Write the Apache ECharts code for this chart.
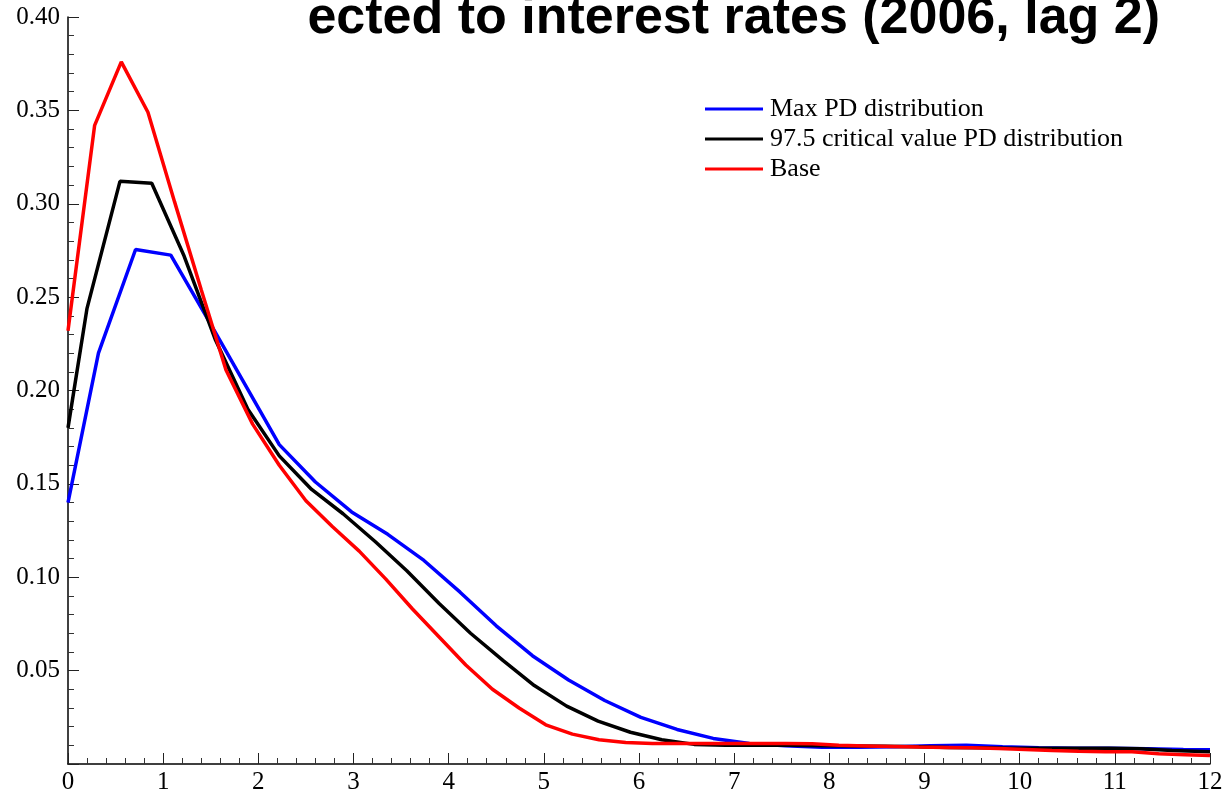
<!DOCTYPE html>
<html>
<head>
<meta charset="utf-8">
<script src="https://cdn.jsdelivr.net/npm/echarts@6/dist/echarts.min.js"></script>
<style>html,body{margin:0;padding:0;background:#fff;}#c{width:1227px;height:798px;}</style>
</head>
<body>
<div id="c"></div>
<script>
const titleText = "ected to interest rates (2006, lag 2)";
const seriesNames = ["Max PD distribution", "97.5 critical value PD distribution", "Base"];
const seriesColors = ["#0000ff", "#000000", "#ff0000"];

const blueX = [0, 0.32, 0.71, 1.08, 1.46, 1.84, 2.22, 2.60, 2.98, 3.36, 3.74, 4.12, 4.50, 4.88, 5.26, 5.64, 6.02, 6.40, 6.78, 7.16, 7.54, 7.92, 8.30, 8.68, 9.06, 9.44, 9.82, 10.20, 10.58, 10.96, 11.34, 11.72, 12];
const blueY = [0.140, 0.220, 0.2755, 0.2725, 0.239, 0.205, 0.171, 0.151, 0.135, 0.123, 0.109, 0.092, 0.074, 0.058, 0.045, 0.034, 0.025, 0.0185, 0.0137, 0.011, 0.0098, 0.0090, 0.0090, 0.0092, 0.0098, 0.0100, 0.0092, 0.0087, 0.0085, 0.0084, 0.0082, 0.0078, 0.0076];

const blackX = [0, 0.20, 0.546, 0.88, 1.22, 1.55, 1.89, 2.22, 2.56, 2.89, 3.23, 3.56, 3.90, 4.23, 4.57, 4.90, 5.24, 5.57, 5.91, 6.24, 6.58, 6.91, 7.25, 7.58, 7.92, 8.25, 8.59, 8.92, 9.26, 9.59, 9.93, 10.26, 10.60, 10.93, 11.27, 11.60, 12];
const blackY = [0.180, 0.244, 0.312, 0.311, 0.272, 0.227, 0.190, 0.165, 0.147, 0.134, 0.119, 0.1035, 0.086, 0.070, 0.0555, 0.042, 0.031, 0.023, 0.017, 0.013, 0.0105, 0.0100, 0.0100, 0.0100, 0.0098, 0.0097, 0.0095, 0.0093, 0.0089, 0.0087, 0.0085, 0.0084, 0.0084, 0.0084, 0.0082, 0.0072, 0.0066];

const redX = [0, 0.28, 0.56, 0.84, 1.12, 1.40, 1.66, 1.94, 2.22, 2.50, 2.78, 3.06, 3.34, 3.62, 3.90, 4.18, 4.46, 4.74, 5.02, 5.30, 5.58, 5.86, 6.14, 6.42, 6.70, 6.98, 7.26, 7.54, 7.82, 8.10, 8.38, 8.66, 8.94, 9.22, 9.50, 9.78, 10.06, 10.34, 10.62, 10.90, 11.18, 11.46, 11.74, 12];
const redY = [0.232, 0.342, 0.376, 0.349, 0.301, 0.254, 0.211, 0.182, 0.160, 0.141, 0.127, 0.114, 0.099, 0.083, 0.068, 0.053, 0.040, 0.030, 0.021, 0.016, 0.013, 0.0115, 0.0110, 0.0110, 0.0110, 0.0110, 0.0110, 0.0110, 0.0108, 0.0100, 0.0097, 0.0094, 0.0091, 0.0089, 0.0087, 0.0083, 0.0078, 0.0072, 0.0068, 0.0066, 0.0066, 0.0055, 0.0050, 0.0045];

const xTicks = [0,1,2,3,4,5,6,7,8,9,10,11,12];

function zip(xs, ys) { return xs.map((x, i) => [x, ys[i]]); }
const allX = [blueX, blackX, redX];
const allY = [blueY, blackY, redY];

const chart = echarts.init(document.getElementById('c'), null, {renderer: 'canvas'});
const serif = "'Liberation Serif', 'Times New Roman', serif";
chart.setOption({
  backgroundColor: '#fff',
  animation: false,
  grid: {left: 68, right: 17, top: 17, bottom: 34, containLabel: false},
  graphic: [{
    type: 'text', z: 100,
    style: {text: titleText, font: "bold 52px 'Liberation Sans', Arial, sans-serif", fill: '#000',
            x: 1160, y: 45, align: 'right', verticalAlign: 'bottom'}
  }],
  legend: {
    orient: 'vertical', left: 705, top: 94, itemGap: 0, padding: 0,
    itemWidth: 58, itemHeight: 3, icon: 'rect',
    data: seriesNames,
    textStyle: {fontFamily: serif, fontSize: 26, color: '#000', lineHeight: 30, padding: [0,0,0,2]}
  },
  xAxis: {
    type: 'value', min: xTicks[0], max: xTicks[xTicks.length-1], interval: 1,
    axisLine: {onZero: false, lineStyle: {color: '#000', width: 1.5}},
    axisTick: {inside: true, length: 11, lineStyle: {color: '#222', width: 1}},
    minorTick: {show: true, splitNumber: 5, length: 6, lineStyle: {color: '#333', width: 1}},
    splitLine: {show: false},
    axisLabel: {fontFamily: serif, fontSize: 25, color: '#000', margin: 6},
  },
  yAxis: {
    type: 'value', min: 0, max: 0.40, interval: 0.05,
    axisLine: {show: true, lineStyle: {color: '#000', width: 1.5}},
    axisTick: {show: true, inside: true, length: 11, lineStyle: {color: '#222', width: 1}},
    minorTick: {show: true, splitNumber: 5, length: 6, lineStyle: {color: '#333', width: 1}},
    splitLine: {show: false},
    axisLabel: {fontFamily: serif, fontSize: 25, color: '#000', margin: 8,
      formatter: v => v === 0 ? '' : v.toFixed(2)}
  },
  series: seriesNames.map((n, i) => ({
    name: n, type: 'line', data: zip(allX[i], allY[i]),
    showSymbol: false, symbol: 'none', clip: true,
    lineStyle: {color: seriesColors[i], width: 3.5},
    itemStyle: {color: seriesColors[i]}
  }))
});
</script>
</body>
</html>
